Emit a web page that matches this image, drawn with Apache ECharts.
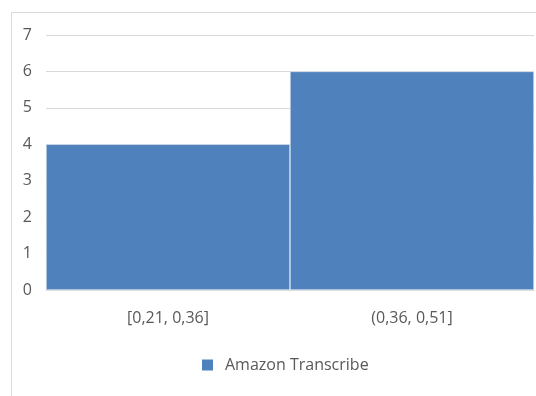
<!DOCTYPE html>
<html>
<head>
<meta charset="utf-8">
<script src="https://cdn.jsdelivr.net/npm/echarts@6/dist/echarts.min.js"></script>
<style>
  html, body { margin: 0; padding: 0; background: #ffffff; }
  #chart { width: 536px; height: 396px; }
</style>
</head>
<body>
<div id="chart"></div>
<script>
// Histogram bins and their counts
const binLabels = ['[0,21, 0,36]', '(0,36, 0,51]'];
const counts = [4, 6];
const seriesName = 'Amazon Transcribe';
const yTicks = { min: 0, max: 7, interval: 1 };

const textColor = '#595959';
const lineColor = '#d9d9d9';
const fontFamily = '"Open Sans", "Noto Sans", sans-serif';

const chart = echarts.init(document.getElementById('chart'), null, { renderer: 'canvas' });

chart.setOption({
  animation: false,
  backgroundColor: '#ffffff',
  graphic: [{
    type: 'rect',
    shape: { x: 11.5, y: 12.5, width: 700, height: 600 },
    style: { fill: 'none', stroke: lineColor, lineWidth: 1 },
    silent: true,
    z: -1
  }],
  grid: { left: 46, right: 2, top: 35, bottom: 106, containLabel: false },
  legend: {
    data: [seriesName],
    left: 195,
    top: 352,
    icon: 'rect',
    itemWidth: 13,
    itemHeight: 13,
    textStyle: { color: textColor, fontSize: 16, fontFamily: fontFamily, padding: [0, 0, 0, 6] }
  },
  xAxis: {
    type: 'category',
    data: binLabels,
    axisLine: { lineStyle: { color: lineColor } },
    axisTick: { show: false },
    axisLabel: { color: textColor, fontSize: 16, fontFamily: fontFamily, margin: 20 }
  },
  yAxis: {
    type: 'value',
    min: yTicks.min,
    max: yTicks.max,
    interval: yTicks.interval,
    axisLine: { show: false },
    axisTick: { show: false },
    splitLine: { lineStyle: { color: lineColor } },
    axisLabel: { color: textColor, fontSize: 16, fontFamily: fontFamily, margin: 14 }
  },
  series: [{
    name: seriesName,
    type: 'bar',
    data: counts,
    barCategoryGap: '0%',
    itemStyle: { color: '#4f81bd', borderColor: '#ffffff', borderWidth: 0.5 }
  }]
});
</script>
</body>
</html>
